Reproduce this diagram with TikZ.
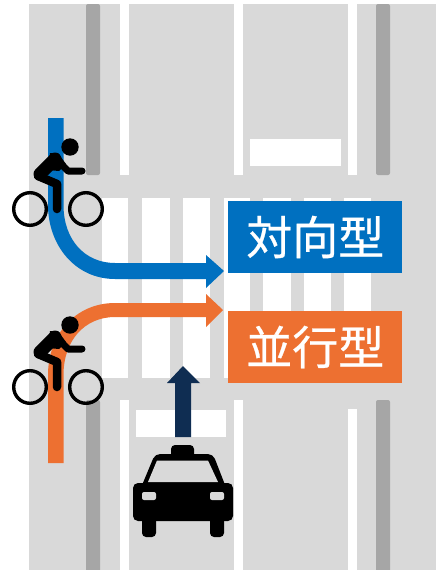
\documentclass[tikz,border=0pt]{standalone}
\usepackage{fontspec}
\newfontfamily\cjk[FakeBold=0.5]{Noto Sans CJK JP}
\definecolor{road}{HTML}{D9D9D9}
\definecolor{kerb}{HTML}{A6A6A6}
\definecolor{blueA}{HTML}{0070C0}
\definecolor{orangeA}{HTML}{ED7031}
\definecolor{navyA}{HTML}{0F2D52}
\tikzset{
  lbl/.style={minimum width=174pt,minimum height=72pt,inner sep=0pt,text=white,font=\cjk\fontsize{46}{46}\selectfont},
  rider/.pic={
    \fill (70,147) circle (8.7);
    \draw[line width=3.4] (30,209) circle (16.3) (86,209) circle (16.3);
    \draw[line width=7,line cap=round,line join=round] (56,159) -- (68,171) -- (82,171);
    \draw[line width=13,line cap=round] (55,159) -- (40,174);
    \fill (50,153) -- (58,153) -- (66,164) -- (59,171) -- (48,170) -- cycle;
    \draw[line width=8.5,line cap=round,line join=round] (38,176) -- (57,184) -- (57,209);
  }
}
\begin{document}
\begin{tikzpicture}[x=1pt,y=-1pt]
\useasboundingbox (0,0) rectangle (436,570);
\fill[white] (0,0) rectangle (436,570);
\fill[road] (29,4) rectangle (436,570);
% kerbs
\foreach \x in {86,376}{
  \fill[kerb,rounded corners=2] (\x,4) rectangle (\x+14,175);
  \fill[kerb,rounded corners=2] (\x,400) rectangle (\x+14,575);
}
% lane lines
\foreach \x in {120,234,348}{
  \fill[white] (\x,4) rectangle (\x+8.5,175);
}
\foreach \x/\y in {120/400,234/400,348/409}{
  \fill[white] (\x,\y) rectangle (\x+8.5,570);
}
% stop bars
\fill[white] (250,139) rectangle (341,166);
\fill[white] (136,410) rectangle (226,437);
% crossing
\foreach \a/\b in {102/128,142/170,183/210,224/250,263/291,304/331,344/371}{
  \fill[white] (\a,198) rectangle (\b,378);
}
% arrows
\fill[blueA] (48,118) -- (63.5,118) -- (63.5,205) .. controls (63.5,240) and (85,263) .. (115,263) -- (206,263) -- (206,255) -- (224,271) -- (206,288) -- (206,279) -- (115,279) .. controls (75,279) and (48,245) .. (48,205) -- cycle;
\fill[orangeA] (48,463) -- (63.5,463) -- (63.5,375) .. controls (63.5,340) and (85,317) .. (115,317) -- (206,317) -- (206,327) -- (223,310) -- (206,294) -- (206,303) -- (115,303) .. controls (75,303) and (48,335) .. (48,375) -- cycle;
\fill[navyA] (175,437) -- (175,383) -- (167,383) -- (183,366) -- (200,383) -- (191,383) -- (191,437) -- cycle;
% labels
\node[lbl,fill=blueA] (taikou) at (315.25,237) {対向型};
\node[lbl,fill=orangeA] (heikou) at (315.25,347) {並行型};
% cyclists
\pic[black] at (0,0) {rider};
\pic[black] at (0,178) {rider};
% taxi
\fill[black,rounded corners=4] (171,458) -- (171,445) -- (194,445) -- (194,458) -- cycle;
\fill[black,rounded corners=5] (140,490) -- (155,454) -- (213,454) -- (227,490) -- cycle;
\fill[road] (157,460.5) -- (208,460.5) -- (218,482) -- (148,482) -- cycle;
\fill[black,rounded corners=5] (133,483) rectangle (233,521);
\fill[black,rounded corners=4] (142,510) rectangle (156,537);
\fill[black,rounded corners=4] (210,510) rectangle (224,537);
\fill[road,rounded corners=2] (142,492) rectangle (156,500);
\fill[road,rounded corners=2] (210,492) rectangle (224,500);
\end{tikzpicture}
\end{document}
